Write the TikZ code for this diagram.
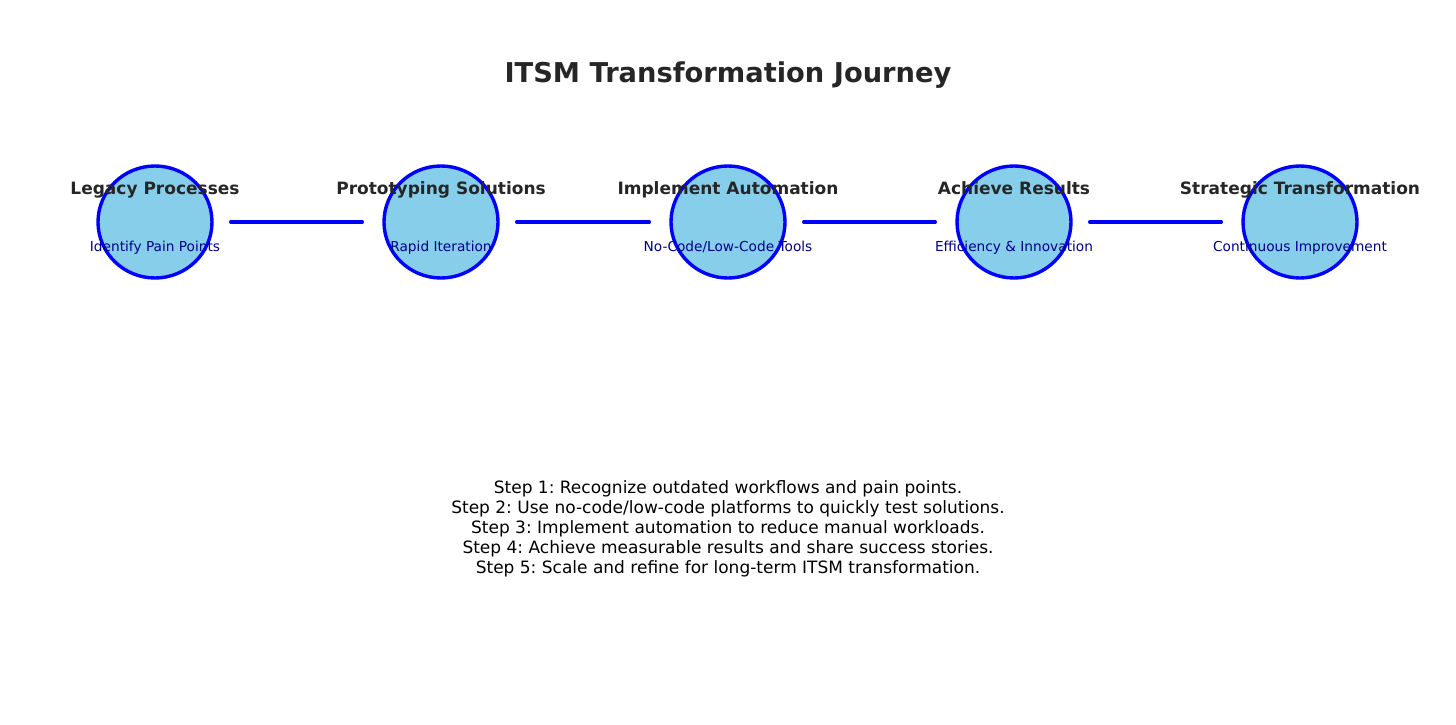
\documentclass[tikz,border=0pt]{standalone}
\usepackage{fontspec}
\setmainfont{DejaVu Sans}
\usetikzlibrary{shapes.geometric}
\definecolor{skyfill}{HTML}{87CEEB}
\definecolor{darktext}{HTML}{262626}
\definecolor{navytext}{HTML}{00008B}
\begin{document}
\frenchspacing
\begin{tikzpicture}[x=1pt,y=-1pt,
  stage/.style={ellipse,draw=blue,fill=skyfill,line width=3.4pt,minimum width=114pt,minimum height=112pt,inner sep=0pt},
  stagetitle/.style={font=\fontsize{17}{20}\selectfont\bfseries,text=darktext,inner sep=0pt,text height=0.76em,text depth=0.24em},
  stagesub/.style={font=\fontsize{13.7}{16}\selectfont,text=navytext,inner sep=0pt,text height=0.76em,text depth=0.24em},
  link/.style={draw=blue,line width=3.4pt,line cap=round,shorten <=17pt,shorten >=20pt}]
\useasboundingbox (0,0) rectangle (1456,725);
\node[font=\fontsize{27.3}{32}\selectfont\bfseries,text=darktext,inner sep=0pt,text height=0.76em,text depth=0.24em] (title) at (728,80) {ITSM Transformation Journey};
\foreach \i/\x in {1/155,2/441,3/728,4/1014,5/1300}{
  \node[stage] (c\i) at (\x,222) {};
}
\foreach \a/\b in {1/2,2/3,3/4,4/5}{
  \draw[link] (c\a) -- (c\b);
}
\node[stagetitle] (t1) at (155,192) {Legacy Processes};
\node[stagetitle] (t2) at (441,192) {Prototyping Solutions};
\node[stagetitle] (t3) at (728,192) {Implement Automation};
\node[stagetitle] (t4) at (1014,192) {Achieve Results};
\node[stagetitle] (t5) at (1300,192) {Strategic Transformation};
\node[stagesub] (s1) at (155,249) {Identify Pain Points};
\node[stagesub] (s2) at (441,249) {Rapid Iteration};
\node[stagesub] (s3) at (728,249) {No-Code/Low-Code Tools};
\node[stagesub] (s4) at (1014,249) {Efficiency \& Innovation};
\node[stagesub] (s5) at (1300,249) {Continuous Improvement};
\node[font=\fontsize{17}{20}\selectfont,text=black,align=center,inner sep=0pt] (steps) at (728,529) {Step 1: Recognize outdated workflows and pain points.\\
Step 2: Use no-code/low-code platforms to quickly test solutions.\\
Step 3: Implement automation to reduce manual workloads.\\
Step 4: Achieve measurable results and share success stories.\\
Step 5: Scale and refine for long-term ITSM transformation.};
\end{tikzpicture}
\end{document}
